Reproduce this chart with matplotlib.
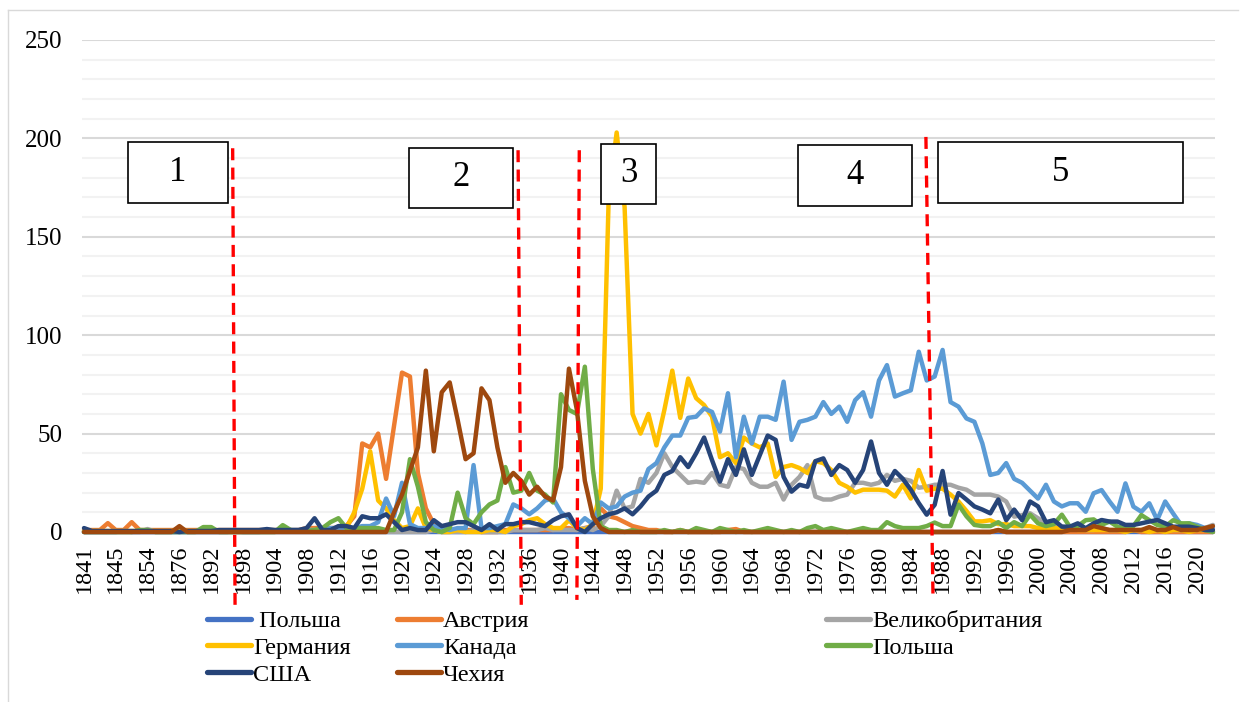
#!/usr/bin/env python3
# Publications by country, 1841-2022, with period dividers 1-5

import matplotlib
matplotlib.use('Agg')
from matplotlib import pyplot as plt
from matplotlib.lines import Line2D
from matplotlib.patches import Rectangle
from matplotlib.transforms import blended_transform_factory

plt.rcParams['font.family'] = ['Liberation Serif', 'DejaVu Serif']

# ---- DATA ----
early_years = [1841, 1842, 1843, 1844, 1845, 1847, 1849, 1851, 1854, 1860, 1865, 1870, 1876,
               1880, 1884, 1888, 1892, 1894, 1895, 1897, 1898, 1900, 1902, 1903, 1904]
years = early_years + list(range(1905, 2023))

poland_blue = [0] * 143

austria = ([1, 1, 1, 4.5, 1, 1, 5, 1, 1, 1, 1, 1, 1, 1, 1, 1, 1, 1, 1, 1, 1, 1, 1, 1, 1]
           + [1, 1, 1, 2, 2, 2, 2]
           + [2, 3, 8, 45, 43, 50, 27, 54, 81, 79, 30, 12, 4, 1, 1, 1, 1, 1, 0, 0, 0, 1, 1, 1]
           + [1, 1, 1, 1, 2, 2, 1, 2, 3, 12, 8, 7, 5, 3, 2, 1, 1, 0, 0, 1, 0]
           + [0, 0, 0, 0, 1, 1.5, 0, 0, 0, 0, 0, 0, 0, 0, 0, 0, 0, 0, 0, 0, 0, 0, 0, 0]
           + [0, 0, 0, 0, 0, 0, 0, 0, 0, 0, 0, 0, 0, 0, 1, 0, 0, 0, 0, 0, 0, 0, 0]
           + [0, 0, 0, 0, 0, 0, 0, 0, 1, 0, 0, 0, 0, 0, 0, 0, 0, 0, 0])

uk = ([0, 0, 0, 0, 0, 0, 0, 0, 1.5, 0, 0, 0, 0, 0, 0, 0, 0, 0, 0, 0, 0, 0, 0, 0, 0]
      + [0, 0, 0, 0, 0, 0, 0]
      + [0, 0, 0, 0, 0, 0, 0, 0, 0, 0, 0, 0, 1, 0, 0, 0, 0, 1, 0, 0, 0, 0, 1, 1]
      + [1, 1, 2, 1, 1, 1, 1, 2, 1, 3, 8, 21, 12, 13, 27, 25, 30, 40, 33, 29, 25]
      + [25.6, 25, 30, 24, 23, 33, 32, 25, 23, 23, 25, 16.5, 24, 28, 34, 18, 16.5, 16.5,
         18, 19, 25, 25, 24, 25]
      + [29, 26, 27, 26, 22.5, 23, 24, 24, 24, 22.5, 21.5, 19, 19, 19, 18, 15.5, 7.8, 8.6,
         9.5, 7, 4.4, 3.6, 2.7]
      + [2, 2, 1, 1, 2, 1, 1, 1, 1, 1, 1, 1, 1, 1, 1, 1, 1, 2, 3.6])

germany = ([0.5] * 25
           + [0.5, 0.5, 0.5, 1, 1, 1, 1]
           + [1, 2, 10, 22, 41, 16, 12, 6, 2, 3, 12, 2, 1, 0, 0, 1, 0, 0, 0, 1, 1, 0, 3, 4]
           + [6, 7, 4, 2, 2, 6, 2, 1, 4, 22, 170, 203, 165, 60, 50, 60, 44, 62, 82, 58, 78]
           + [68, 64.5, 58.6, 38, 40, 35, 48, 45, 43, 45, 28, 33, 34, 32.5, 30, 36, 35, 31.5,
              25, 23, 20, 21.5, 21.5, 21.5]
           + [21, 18, 24, 17, 31.5, 21, 22, 22, 19, 15.5, 10.7, 5.4, 5.4, 6, 4, 4, 3, 3, 3,
              2, 2, 2, 2]
           + [2, 1, 1, 1, 1, 1, 1, 0, 1, 1, 0, 1, 0, 1, 1, 0, 1, 1, 1])

canada = ([0, 0, 0, 0, 0, 0.5, 0, 0, 0, 0, 0, 0, 0, 0, 0, 0, 0, 0, 0, 0.5, 0, 0, 0, 0.5, 0.5]
          + [1, 1, 1, 1, 1, 1, 2]
          + [2, 2, 2, 3, 3, 5, 17, 8, 25, 4, 2, 2, 3, 2, 1, 2, 2, 34, 2, 2, 3, 4, 14, 12]
          + [9, 12, 16, 17, 10, 7, 3, 7, 4, 15, 12, 13, 18, 20, 21, 32, 35, 43, 49, 49, 58]
          + [58.6, 62.8, 61, 51, 70.5, 38, 58.6, 45, 58.6, 58.6, 57, 76.4, 46.8, 56, 57, 58.6,
             66, 60, 63.7, 56, 67, 71, 58.6, 77]
          + [84.8, 68.8, 70.5, 72, 91.6, 77, 79, 92.5, 66, 63.7, 57.7, 56, 45, 29, 30, 35, 27,
             25, 21, 17, 24, 15.5, 13]
          + [14.6, 14.6, 10.3, 19.7, 21.3, 15.5, 10.3, 24.7, 12.9, 10.3, 14.6, 6.1, 15.5, 9.4,
             3.6, 4.4, 3.6, 2, 2])

poland = ([0, 0, 0, 0, 0, 0, 0, 1, 1, 0, 0, 0, 0, 0, 0, 2.5, 2.5, 0, 0, 0, 0, 0, 0, 0, 0]
          + [3.5, 1, 0.5, 0.5, 1, 2, 5]
          + [7, 2, 2, 2, 2, 2, 1, 1, 10, 37, 23, 5, 1, 0, 2, 20, 7, 4, 10, 14, 16, 33, 20, 21]
          + [30, 21, 19, 15, 70, 62, 60, 84, 32, 3, 1, 1, 0, 1, 0, 0, 0, 1, 0, 1, 0]
          + [2, 1, 0, 2, 1, 0, 1, 0, 1, 2, 1, 0, 1, 0, 2, 3, 1, 2, 1, 0, 1, 2, 1, 1]
          + [5, 3, 2, 2, 2, 3, 4.8, 3, 3, 13.9, 8, 3.6, 3, 3, 5, 2, 5, 3, 8.8, 4.4, 3, 4, 8.8]
          + [2.7, 3, 6, 6.4, 3.6, 5.3, 2.7, 2, 3, 8.6, 6, 3.6, 2.7, 6, 4.4, 4.4, 2.7, 1, 0])

usa = ([2, 0.5, 0.5, 0.5, 0.5, 0.5, 0.5, 0.5, 0.5, 0.5, 0.5, 0.5, 0, 0.5, 0.5, 0.5, 0.5,
        1, 1, 1, 1, 1, 1, 1.5, 1]
       + [1, 1, 1, 2, 7, 1, 1]
       + [3, 3, 2, 8, 7, 7, 9, 5, 1, 2, 1, 1, 6, 3, 4, 5, 5, 3, 1, 4, 1, 4, 4, 5]
       + [5, 4, 3, 6, 8, 9, 2, 0, 4, 7, 9, 10, 12, 9, 13, 18, 21, 29, 31, 38, 33]
       + [40, 48, 36.5, 25.6, 37, 29, 42, 29, 39, 49, 46.8, 28, 20.5, 24, 23, 36, 37.4, 29,
          34, 31.5, 25, 31.5, 46, 30]
       + [24, 31, 27, 21.5, 14.7, 8.8, 13.8, 31, 8.8, 19.8, 16.5, 13, 11.4, 9.5, 16.5, 6,
          11.4, 6, 15.5, 13, 5, 6, 2.7]
       + [2.7, 4.4, 1.9, 4.4, 6.1, 5.3, 5.3, 3.6, 3.6, 4.4, 5.3, 6.1, 4.4, 2.7, 2.7, 2.7,
          2, 1, 1])

czech = ([0, 0, 0, 0, 0, 0, 0, 0, 0, 0, 0, 0, 3, 0, 0, 0, 0, 0, 0, 0, 0, 0, 0, 0, 0]
         + [0, 0, 0, 0, 0, 0, 0]
         + [0, 0, 0, 0, 0, 0, 0, 10, 19, 31, 43, 82, 41, 71, 76, 57, 37, 40, 73, 67, 43, 25, 30, 26]
         + [19, 23, 18, 16, 33, 83, 62, 26, 8, 2, 0, 0, 0, 0, 0, 0, 0, 0, 0, 0, 0]
         + [0] * 24
         + [0, 0, 0, 0, 0, 0, 0, 0, 0, 0, 0, 0, 0, 0, 1, 0, 0, 0, 0, 0, 0, 0, 0]
         + [1, 1, 1, 3, 2, 1, 1, 1, 1, 1, 2.5, 1, 1, 2.5, 1, 1, 1, 2, 3])

series = [
    (' Польша', poland_blue, '#4472C4'),
    ('Австрия', austria, '#ED7D31'),
    ('Великобритания', uk, '#A5A5A5'),
    ('Германия', germany, '#FFC000'),
    ('Канада', canada, '#5B9BD5'),
    ('Польша', poland, '#70AD47'),
    ('США', usa, '#264478'),
    ('Чехия', czech, '#9E480E'),
]

# period dividers: (category pos at top, at bottom, top in axes frac, bottom in axes frac)
dividers = [(18.7, 19.0, 0.780, -0.148),
            (54.6, 55.0, 0.776, -0.148),
            (62.3, 62.0, 0.776, -0.138),
            (105.9, 106.8, 0.803, -0.138)]

# period boxes in pixels: (left, top, right, bottom, label)
boxes = [(128, 142, 228, 203, '1'),
         (409, 148, 513, 208, '2'),
         (601, 144, 656, 204, '3'),
         (798, 145, 912, 206, '4'),
         (938, 142, 1183, 203, '5')]

# ---- FIGURE ----
W, H = 1242, 702
fig = plt.figure(figsize=(W / 100, H / 100), dpi=100)
ax = fig.add_axes([82 / W, 1 - 532 / H, (1215 - 82) / W, (532 - 40) / H])

x = list(range(len(years)))
for label, vals, color in series:
    ax.plot(x, vals, color=color, lw=3.2, solid_joinstyle='round',
            solid_capstyle='round', clip_on=False, zorder=3)

ax.set_xlim((82 - 84) / 7.95, (1215 - 84) / 7.95)
ax.set_ylim(0, 250)
ax.set_yticks(range(0, 251, 50))
ax.set_yticks(range(0, 251, 10), minor=True)
ax.grid(which='major', axis='y', color='#D9D9D9', lw=1.5)
ax.grid(which='minor', axis='y', color='#F2F2F2', lw=1.5)
ax.set_axisbelow(True)
ax.set_xticks(x[::4])
ax.set_xticklabels([str(y) for y in years[::4]], rotation=90)
ax.tick_params(axis='x', length=0, pad=9, labelsize=17.5)
ax.tick_params(axis='y', which='both', length=0, pad=14, labelsize=18)
for sp in ax.spines.values():
    sp.set_visible(False)

trans = blended_transform_factory(ax.transData, ax.transAxes)
for xt, xb, yt, yb in dividers:
    ax.plot([xt, xb], [yt, yb], transform=trans, color='#FF0000', lw=2.4,
            dashes=(3.6, 2.2), clip_on=False, zorder=4)

for l, t, r, b, txt in boxes:
    ax.add_patch(Rectangle((l / W, 1 - b / H), (r - l) / W, (b - t) / H,
                           transform=fig.transFigure, fc='white', ec='black',
                           lw=1.2, zorder=6, clip_on=False))
    ax.text((l + r) / 2 / W, 1 - (t + b) / 2 / H, txt, transform=fig.transFigure,
            ha='center', va='center', fontsize=25, zorder=7)

# outer chart border (left and top)
fig.add_artist(Line2D([8 / W, 8 / W], [0, 1 - 10 / H], color='#D9D9D9', lw=1))
fig.add_artist(Line2D([8 / W, 1238 / W], [1 - 10 / H, 1 - 10 / H], color='#D9D9D9', lw=1))

# legend in three columns at irregular positions
cols = [(207, [0, 3, 6]), (397, [1, 4, 7]), (826, [2, 5])]
for left, idx in cols:
    handles = [Line2D([], [], color=series[i][2], lw=3.8, solid_capstyle='round') for i in idx]
    labels = [series[i][0] for i in idx]
    leg = fig.legend(handles, labels, loc='upper left', bbox_to_anchor=(left / W, 1 - 610 / H),
                     bbox_transform=fig.transFigure, frameon=False, fontsize=17.5,
                     handlelength=1.8, handletextpad=0.1, labelspacing=0.2,
                     borderpad=0, borderaxespad=0)

fig.savefig('out.png', dpi=100)
